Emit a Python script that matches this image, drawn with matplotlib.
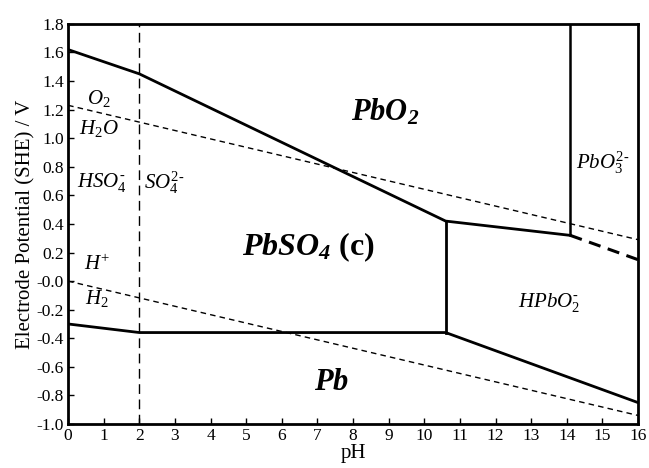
import numpy as np
import matplotlib.pyplot as plt

plt.rcParams['font.family'] = ['Liberation Serif', 'DejaVu Serif']
plt.rcParams['mathtext.fontset'] = 'custom'
plt.rcParams['mathtext.rm'] = 'Liberation Serif'
plt.rcParams['mathtext.it'] = 'Liberation Serif:italic'
plt.rcParams['mathtext.bf'] = 'Liberation Serif:bold:italic'

# phase boundaries (pH, E / V)
upper_ph = [0, 2, 10.6, 14.1]
upper_e = [1.62, 1.45, 0.42, 0.32]
upper_ext_ph = [14.1, 16]
upper_ext_e = [0.32, 0.15]
lower_ph = [0, 2, 10.6, 16]
lower_e = [-0.30, -0.36, -0.36, -0.85]
vert1_ph = [10.6, 10.6]
vert1_e = [0.42, -0.36]
vert2_ph = [14.1, 14.1]
vert2_e = [0.32, 1.8]
sulfate_ph = [2, 2]
sulfate_e = [-1.0, 1.8]
# water stability lines
water_ph = [0, 16]
o2_e = [1.23, 0.29]
h2_e = [0.0, -0.94]

fig = plt.figure(figsize=(6.49, 4.68), dpi=100)
ax = fig.add_axes([0.105, 0.094, 0.878, 0.855])

k = 'black'
ax.plot(upper_ph, upper_e, color=k, lw=2)
ax.plot(upper_ext_ph, upper_ext_e, color=k, lw=2.2, ls=(0, (4, 2.5)))
ax.plot(lower_ph, lower_e, color=k, lw=2)
ax.plot(vert1_ph, vert1_e, color=k, lw=2)
ax.plot(vert2_ph, vert2_e, color=k, lw=1.8)
ax.plot(sulfate_ph, sulfate_e, color=k, lw=1, ls=(0, (7, 4)))
ax.plot(water_ph, o2_e, color=k, lw=1, ls=(0, (4, 3)))
ax.plot(water_ph, h2_e, color=k, lw=1, ls=(0, (4, 3)))

ax.set_xlim(0, 16)
ax.set_ylim(-1.0, 1.8)
ax.set_xticks(np.arange(0, 17, 1))
ax.set_yticks(np.arange(-1.0, 1.81, 0.2))
ax.set_yticklabels([f'{v:.1f}' for v in np.arange(-1.0, 1.81, 0.2)])
ax.tick_params(direction='in', length=4, width=1, labelsize=12.5, pad=3)
for s in ax.spines.values():
    s.set_linewidth(2)

ax.set_xlabel('pH', fontsize=15, labelpad=0)
ax.set_ylabel('Electrode Potential (SHE) / V', fontsize=15, labelpad=1)

big = dict(fontsize=22, ha='center', va='center')
ax.text(8.9, 1.18, r'$\mathbf{PbO_2}$', **big)
ax.text(6.75, 0.24, r'$\mathbf{PbSO_4}$ (c)', fontsize=23, ha='center', va='center', fontweight='bold')
ax.text(7.4, -0.71, r'$\mathbf{Pb}$', **big)

sm = dict(fontsize=15, ha='center', va='center')
ax.text(15.0, 0.83, r'$PbO_3^{2\text{-}}$', **sm)
ax.text(13.5, -0.15, r'$HPbO_2^{\text{-}}$', **sm)
ax.text(0.85, 1.28, r'$O_2$', **sm)
ax.text(0.85, 1.07, r'$H_2O$', **sm)
ax.text(0.95, 0.69, r'$HSO_4^{\text{-}}$', **sm)
ax.text(2.7, 0.69, r'$SO_4^{2\text{-}}$', **sm)
ax.text(0.8, 0.11, r'$H^{+}$', **sm)
ax.text(0.8, -0.12, r'$H_2$', **sm)

fig.savefig('out.png', dpi=100)
